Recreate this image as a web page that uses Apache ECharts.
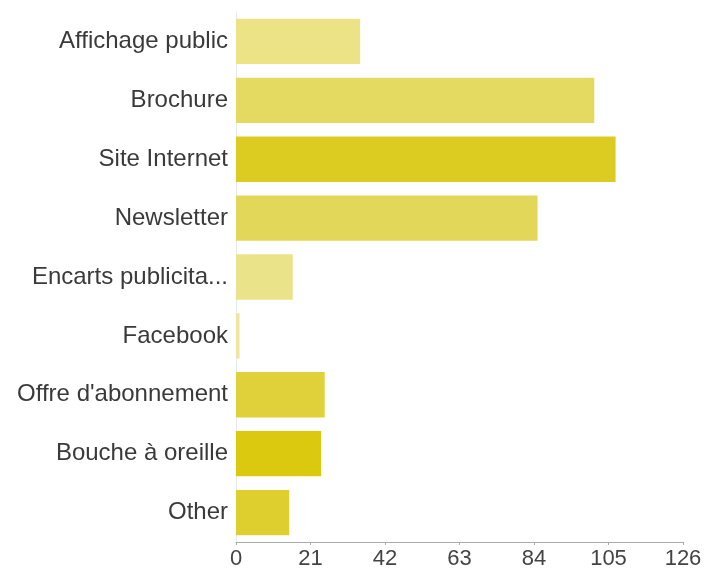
<!DOCTYPE html>
<html>
<head>
<meta charset="utf-8">
<script src="https://cdn.jsdelivr.net/npm/echarts@6/dist/echarts.min.js"></script>
<style>
  html, body { margin: 0; padding: 0; background: #fff; }
  #main { width: 706px; height: 574px; }
</style>
</head>
<body>
<div id="main"></div>
<script>
var categories = ['Affichage public', 'Brochure', 'Site Internet', 'Newsletter', 'Encarts publicita...', 'Facebook', "Offre d'abonnement", 'Bouche à oreille', 'Other'];
var values = [35, 101, 107, 85, 16, 1, 25, 24, 15];
var barColors = ['#ebe386', '#e4da62', '#dccc22', '#e3d75a', '#ebe38a', '#ece6a0', '#e0d03a', '#dac90e', '#dfcf2e'];

var chart = echarts.init(document.getElementById('main'));

var option = {
    animation: false,
    grid: { left: 236, right: 23, top: 12, height: 530 },
    xAxis: {
        type: 'value',
        min: 0,
        max: 126,
        interval: 21,
        axisLine: { show: true, lineStyle: { color: '#aaa' } },
        axisTick: { show: true, length: 3, lineStyle: { color: '#aaa' } },
        splitLine: { show: false },
        axisLabel: { color: '#444', fontSize: 22, fontFamily: 'Liberation Sans', margin: 6 }
    },
    yAxis: {
        type: 'category',
        inverse: true,
        data: categories,
        axisLine: { show: true, lineStyle: { color: '#e6e8f0' } },
        axisTick: { show: false },
        axisLabel: { color: '#3a3a3a', fontSize: 24, fontFamily: 'Liberation Sans', margin: 8 }
    },
    series: [{
        type: 'bar',
        barCategoryGap: '23%',
        data: values.map(function (v, i) {
            return { value: v, itemStyle: { color: barColors[i] } };
        })
    }]
};

chart.setOption(option);
</script>
</body>
</html>
